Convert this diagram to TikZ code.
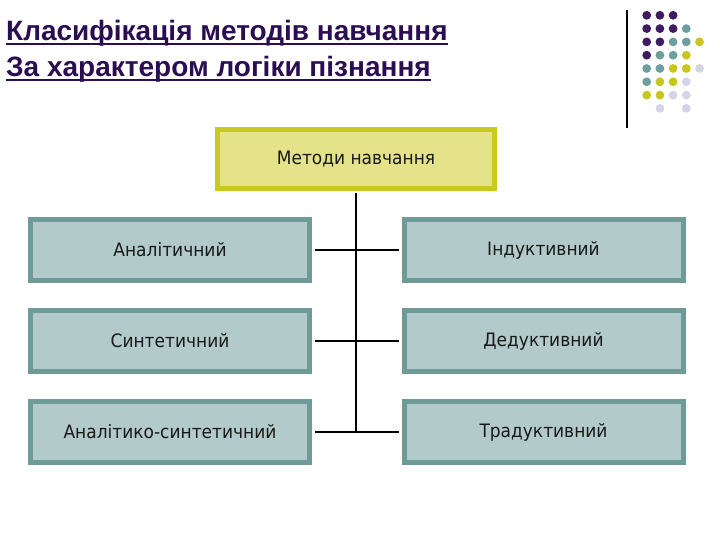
\documentclass[tikz,border=0pt]{standalone}
\usepackage{fontspec}
\setmainfont{Liberation Sans}
\newfontfamily\boxfont[FakeStretch=0.92]{DejaVu Sans}
\definecolor{ttl}{HTML}{2B0D52}
\definecolor{dpurple}{HTML}{3F1B62}
\definecolor{dteal}{HTML}{6E9E9E}
\definecolor{dyellow}{HTML}{C6C61E}
\definecolor{dlav}{HTML}{D4D4E6}
\definecolor{tealborder}{HTML}{6E9A98}
\definecolor{tealfill}{HTML}{B2CBCA}
\definecolor{yelborder}{HTML}{C9C920}
\definecolor{yelfill}{HTML}{E5E38A}
\begin{document}
\begin{tikzpicture}[x=1pt,y=-1pt,
  titletext/.style={anchor=base west,inner sep=0pt,font=\fontsize{28}{32}\selectfont\bfseries,text=ttl},
  methbox/.style={draw=tealborder,fill=tealfill,line width=5pt,minimum width=279pt,minimum height=61pt,font=\boxfont\fontsize{18.5}{21}\selectfont,text=black!90},
  topbox/.style={draw=yelborder,fill=yelfill,line width=5pt,minimum width=277pt,minimum height=59pt,font=\boxfont\fontsize{18.5}{21}\selectfont,text=black!90},
  link/.style={line width=2pt,black},
  dot/.style={radius=4.4pt}]
\useasboundingbox (0,0) rectangle (720,540);
% title
\node[titletext] (t1) at (6,41) {Класифікація методів навчання};
\node[titletext] (t2) at (6,77) {За характером логіки пізнання};
\draw[ttl,line width=2pt] ([yshift=-3.5pt]t1.base west) -- ([yshift=-3.5pt]t1.base east);
\draw[ttl,line width=2pt] ([yshift=-3.5pt]t2.base west) -- ([yshift=-3.5pt]t2.base east);
% decoration
\coordinate (va) at (627,10);
\coordinate (vb) at (627,128);
\draw[line width=1.2pt] (va) -- (vb);
\foreach \c/\r/\col in {0/0/dpurple,1/0/dpurple,2/0/dpurple,
  0/1/dpurple,1/1/dpurple,2/1/dpurple,3/1/dteal,
  0/2/dpurple,1/2/dpurple,2/2/dteal,3/2/dteal,4/2/dyellow,
  0/3/dpurple,1/3/dteal,2/3/dteal,3/3/dyellow,
  0/4/dteal,1/4/dteal,2/4/dyellow,3/4/dyellow,4/4/dlav,
  0/5/dteal,1/5/dyellow,2/5/dyellow,3/5/dlav,
  0/6/dyellow,1/6/dyellow,2/6/dlav,3/6/dlav,
  1/7/dlav,3/7/dlav}
  \fill[\col] (646.7+13.2*\c,15.3+13.3*\r) circle[dot];
% boxes
\node[topbox] (top) at (356,159) {Методи навчання};
\node[methbox] (l1) at (170,250) {Аналітичний};
\node[methbox] (l2) at (170,341) {Синтетичний};
\node[methbox] (l3) at (170,432) {Аналітико-синтетичний};
\node[methbox] (r1) at (543.5,250) {Індуктивний};
\node[methbox] (r2) at (543.5,341) {Дедуктивний};
\node[methbox] (r3) at (543.5,432) {Традуктивний};
% connectors
\draw[link] ([yshift=-2.5pt]top.south) -- (top.south |- l3.east);
\draw[link] ([xshift=2.5pt]l1.east) -- ([xshift=-2.5pt]r1.west);
\draw[link] ([xshift=2.5pt]l2.east) -- ([xshift=-2.5pt]r2.west);
\draw[link] ([xshift=2.5pt]l3.east) -- ([xshift=-2.5pt]r3.west);
\end{tikzpicture}
\end{document}
